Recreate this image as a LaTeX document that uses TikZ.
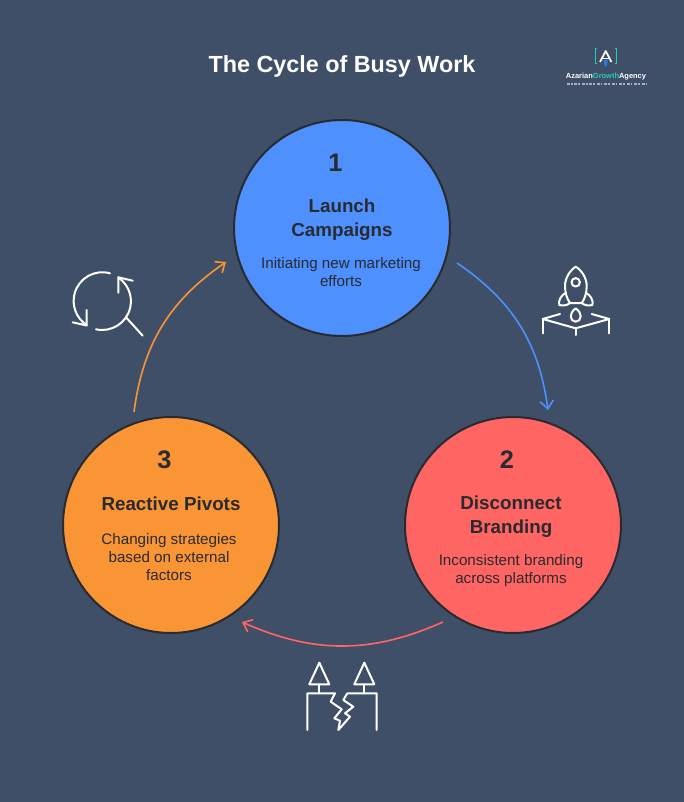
\documentclass[tikz,border=0pt]{standalone}
\usepackage{fontspec}
\setmainfont{Liberation Sans}
\usetikzlibrary{arrows.meta}
\definecolor{pagebg}{RGB}{63,79,104}
\definecolor{inkdark}{RGB}{41,43,48}
\definecolor{launchblue}{RGB}{77,144,254}
\definecolor{brandred}{RGB}{255,102,99}
\definecolor{pivotorange}{RGB}{250,149,53}
\definecolor{logoteal}{RGB}{45,200,180}
\definecolor{logoblue}{RGB}{45,120,220}
\tikzset{
  stage/.style={circle,draw=inkdark,line width=1.5pt,minimum size=162pt,inner sep=0pt},
  stagenum/.style={text=inkdark,font=\bfseries\fontsize{19}{22}\selectfont},
  stagehead/.style={text=inkdark,align=center,font=\bfseries\fontsize{14.1}{18}\selectfont},
  stagetext/.style={text=inkdark,align=center,font=\fontsize{11.4}{13.5}\selectfont},
  cyclearrow/.style={line width=1.2pt,-{Straight Barb[length=6pt,width=10pt]}},
  iconline/.style={white,line width=1.5pt,line join=round,line cap=round},
}
\begin{document}
\begin{tikzpicture}[x=0.75pt,y=0.75pt,yscale=-1,xscale=1]
%Background
\fill [pagebg] (0,0) rectangle (684,802);
\useasboundingbox (0,0) rectangle (684,802);
%Title
\node [text=white,font=\bfseries\fontsize{17.5}{22}\selectfont] (title) at (342,66) {The Cycle of Busy Work};
%Logo
\draw [logoteal,line width=0.6pt] (597,48.5) -- (595,48.5) -- (595,63.5) -- (597,63.5) ;
\draw [logoteal,line width=0.6pt] (614.7,48.5) -- (616.7,48.5) -- (616.7,63.5) -- (614.7,63.5) ;
\fill [logoblue] (603.7,60) -- (607.7,60) -- (607.3,65) -- (605.7,67) -- (604.1,65) -- cycle ;
\draw [white,line width=1.3pt,line join=round] (600,62) -- (605.7,51) -- (611.4,62) ;
\draw [white,line width=0.9pt] (602.5,58.5) -- (608.9,58.5) ;
\node [text=white,font=\bfseries\fontsize{5.6}{8}\selectfont,inner sep=0pt] (logoname) at (606,77) {Azarian{\color{logoteal}Growth}Agency};
\draw [white!55!pagebg,line width=1.1pt,dash pattern=on 2.2pt off 0.8pt on 1.2pt off 1.4pt] (567,84) -- (646,84) ;
%Circles
\node [stage,fill=launchblue] (launch) at (342,228) {};
\node [stage,fill=brandred] (disconnect) at (513,525) {};
\node [stage,fill=pivotorange] (pivots) at (171,525) {};
%Circle 1 text
\node [stagenum] (launchnum) at (335.5,163) {1};
\node [stagehead] (launchhead) at (342,220) {Launch\\Campaigns};
\node [stagetext] (launchtext) at (341,272) {Initiating new marketing\\efforts};
%Circle 2 text
\node [stagenum] (disconnectnum) at (507,460) {2};
\node [stagehead] (disconnecthead) at (511,517) {Disconnect\\Branding};
\node [stagetext] (disconnecttext) at (511,571) {Inconsistent branding\\across platforms};
%Circle 3 text
\node [stagenum] (pivotsnum) at (164.5,460) {3};
\node [stagehead] (pivotshead) at (171,504) {Reactive Pivots};
\node [stagetext] (pivotstext) at (169,557) {Changing strategies\\based on external\\factors};
%Arrows
\coordinate (launchout) at (457,263);
\coordinate (disconnectin) at (548,410);
\coordinate (disconnectout) at (443,622);
\coordinate (pivotsin) at (242,622);
\coordinate (pivotsout) at (134,412);
\coordinate (launchin) at (226,262);
\draw [cyclearrow,launchblue] (launchout) to [bend right=24] (disconnectin) ;
\draw [cyclearrow,brandred] (disconnectout) to [bend right=24] (pivotsin) ;
\draw [cyclearrow,pivotorange] (pivotsout) to [bend right=24] (launchin) ;
%Rocket icon
\draw [iconline] (575.7,266.7) .. controls (569,271) and (565,279) .. (565,286) .. controls (565,293) and (567,299) .. (570,303) -- (581.7,303) .. controls (584.7,299) and (586.7,293) .. (586.7,286) .. controls (586.7,279) and (582.7,271) .. (575.7,266.7) -- cycle ;
\draw [iconline] (575.7,282.3) circle (4.2) ;
\draw [iconline] (566,292.7) .. controls (561,295) and (558,301) .. (559.3,305) .. controls (563,306) and (567,305.5) .. (570,303) ;
\draw [iconline] (585.7,292.7) .. controls (590.7,295) and (593.7,301) .. (592.4,305) .. controls (588.7,306) and (584.7,305.5) .. (581.7,303) ;
\draw [iconline] (575.7,308.3) .. controls (572,311) and (570.7,314) .. (570.7,316.5) .. controls (570.7,319.5) and (573,321.7) .. (575.7,321.7) .. controls (578.4,321.7) and (580.7,319.5) .. (580.7,316.5) .. controls (580.7,314) and (579.4,311) .. (575.7,308.3) -- cycle ;
\draw [iconline] (560,314) -- (542.7,319) -- (575.7,328.3) -- (609.3,319) -- (591.7,314) ;
\draw [iconline] (542.7,319) -- (542.7,333.3) ;
\draw [iconline] (575.7,328.3) -- (575.7,335) ;
\draw [iconline] (609.3,319) -- (609.3,333.3) ;
%Split trees icon
\draw [iconline] (319.3,662.7) -- (329.3,684.3) -- (309.3,684.3) -- cycle ;
\draw [iconline] (364.3,662.7) -- (374.3,684.3) -- (354.3,684.3) -- cycle ;
\draw [iconline] (319.3,684.3) -- (319.3,693.3) ;
\draw [iconline] (364.3,684.3) -- (364.3,693.3) ;
\draw [iconline] (307.3,730) -- (307.3,693.3) -- (335,693.3) -- (330.7,701.7) -- (341.7,709.3) -- (334.3,718.3) -- (340,720.7) -- (338.3,730) -- (350,716.7) -- (345,713.3) -- (353.3,706.7) -- (343.3,700) -- (347.3,693.3) -- (376.7,693.3) -- (376.7,730) ;
%Loop icon
\draw [iconline] (110,273.3) arc [start angle=285.5,end angle=123,radius=28.7] ;
\draw [iconline] (72.7,322.3) -- (86.7,325.5) -- (86.7,310) ;
\draw [iconline] (96,329.3) arc [start angle=102.5,end angle=-56,radius=28.7] ;
\draw [iconline] (132.7,280.7) -- (118.3,277.3) -- (118.3,292.7) ;
\draw [iconline] (126,317.3) -- (142.7,335.7) ;
\end{tikzpicture}
\end{document}
